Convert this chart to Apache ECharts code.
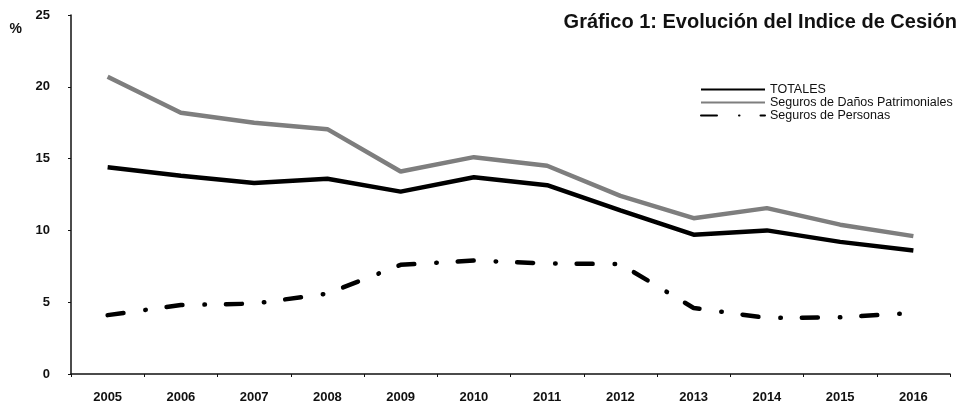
<!DOCTYPE html>
<html>
<head>
<meta charset="utf-8">
<script src="https://cdn.jsdelivr.net/npm/echarts@6/dist/echarts.min.js"></script>
<style>html,body{margin:0;padding:0;background:#fff}#c{width:969px;height:409px}</style>
</head>
<body>
<div id="c"></div>
<script>
var years = ['2005','2006','2007','2008','2009','2010','2011','2012','2013','2014','2015','2016'];
var totales = [14.4, 13.8, 13.3, 13.6, 12.7, 13.7, 13.15, 11.4, 9.7, 10.0, 9.2, 8.6];
var danos = [20.7, 18.2, 17.5, 17.05, 14.1, 15.1, 14.5, 12.4, 10.85, 11.55, 10.4, 9.6];
var personas = [4.1, 4.8, 4.9, 5.6, 7.6, 7.9, 7.7, 7.65, 4.6, 3.9, 3.95, 4.25];
var yTicks = [0, 5, 10, 15, 20, 25];
var seriesNames = ['TOTALES', 'Seguros de Daños Patrimoniales', 'Seguros de Personas'];

var font = 'Liberation Sans, Arial, sans-serif';
var chart = echarts.init(document.getElementById('c'), null, {renderer: 'canvas'});
chart.setOption({
  animation: false,
  backgroundColor: '#fff',
  title: {
    text: 'Gráfico 1: Evolución del Indice de Cesión',
    right: 7, top: 7,
    textStyle: {fontFamily: font, fontSize: 20, fontWeight: 'bold', color: '#111'}
  },
  legend: {
    orient: 'vertical',
    left: 695, top: 78,
    itemWidth: 64, itemHeight: 10, itemGap: 0,
    itemStyle: {opacity: 0},
    textStyle: {fontFamily: font, fontSize: 12.5, lineHeight: 12, color: '#111'},
    data: seriesNames
  },
  grid: {left: 71, right: 19, top: 15, bottom: 35, containLabel: false},
  xAxis: {
    type: 'category',
    data: years,
    boundaryGap: true,
    axisLine: {lineStyle: {color: '#111', width: 1.5}},
    axisTick: {show: true, length: 3, lineStyle: {color: '#111'}},
    axisLabel: {fontFamily: font, fontSize: 13, fontWeight: 'bold', color: '#111', margin: 17}
  },
  yAxis: {
    type: 'value',
    min: yTicks[0], max: yTicks[yTicks.length - 1], interval: 5,
    name: '%', nameLocation: 'end',
    nameTextStyle: {fontFamily: font, fontSize: 14, fontWeight: 'bold', color: '#111', align: 'right', padding: [0, 49, -36, 0]},
    axisLine: {show: true, lineStyle: {color: '#111', width: 1.5}},
    axisTick: {show: true, length: 3, lineStyle: {color: '#111'}},
    splitLine: {show: false},
    axisLabel: {fontFamily: font, fontSize: 13, fontWeight: 'bold', color: '#111', margin: 21}
  },
  series: [
    {
      name: seriesNames[0], type: 'line', data: totales, symbol: 'none',
      lineStyle: {color: '#000', width: 4.5}, itemStyle: {color: '#000'}
    },
    {
      name: seriesNames[1], type: 'line', data: danos, symbol: 'none',
      lineStyle: {color: '#7e7e7e', width: 4.5}, itemStyle: {color: '#7e7e7e'}
    },
    {
      name: seriesNames[2], type: 'line', data: personas, symbol: 'none',
      lineStyle: {color: '#000', width: 4.5, type: [16, 22, 0.5, 21], cap: 'round'}, itemStyle: {color: '#000'}
    }
  ]
});
</script>
</body>
</html>
